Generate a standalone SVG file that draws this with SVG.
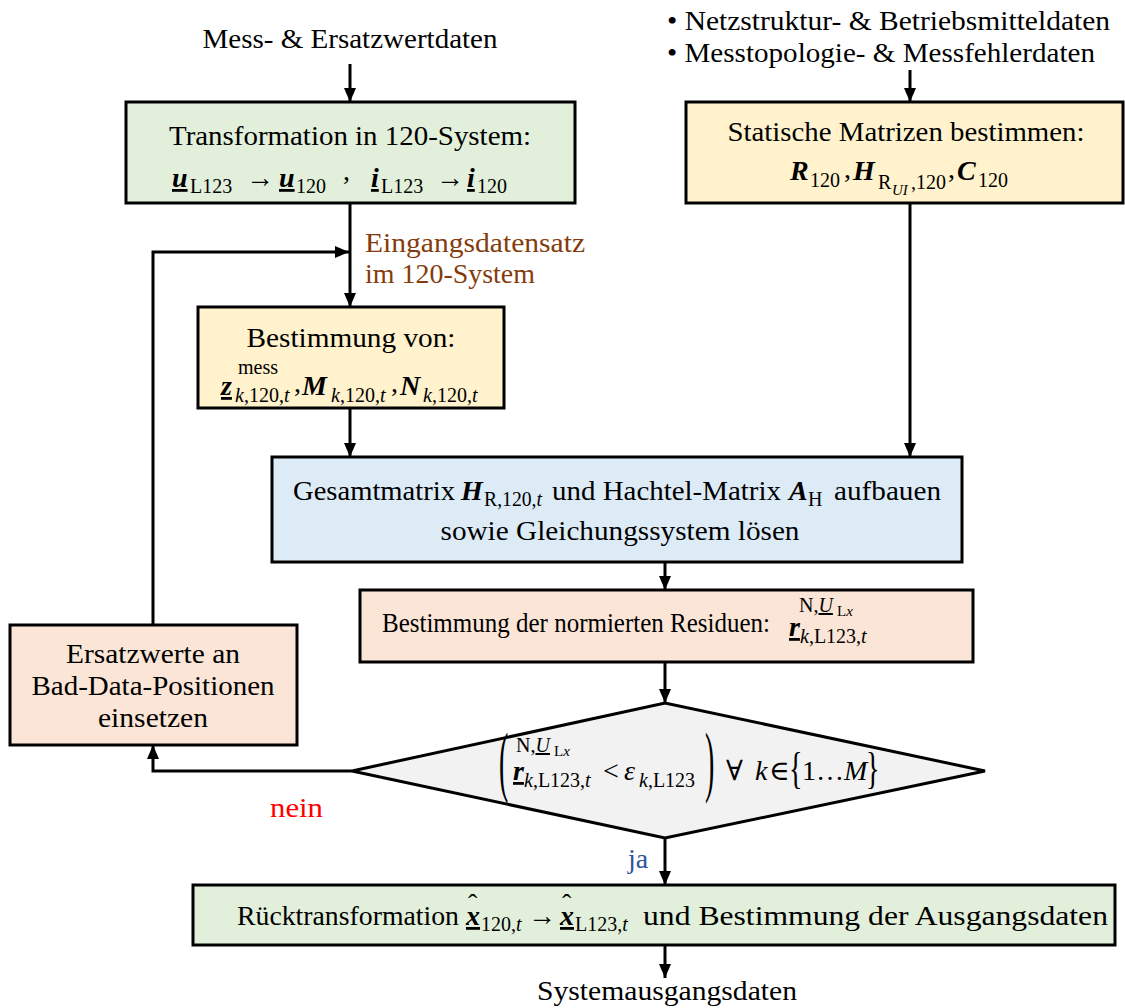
<svg xmlns="http://www.w3.org/2000/svg" width="1125" height="1008" viewBox="0 0 1125 1008">
  <style>
    .box { stroke: #000; stroke-width: 3; }
    .green { fill: #E2EFDA; }
    .yellow { fill: #FFF2CC; }
    .blue { fill: #DDEBF7; }
    .peach { fill: #FBE5D6; }
    .gray { fill: #F2F2F2; }
    text { font-family: "Liberation Serif", "DejaVu Serif", serif; font-size: 28px; fill: #000; }
    .mid { text-anchor: middle; }
    .bi { font-weight: bold; font-style: italic; }
    .it { font-style: italic; }
    .ul { text-decoration: underline; }
    .sub { font-size: 20px; }
    .ssub { font-size: 15px; }
    .con { stroke: #000; stroke-width: 3; fill: none; }
    .brown { fill: #843C0C; }
    .red { fill: #FF0000; }
    .bluet { fill: #2F5597; }
  </style>
  <defs>
    <marker id="arr" viewBox="0 0 14 12" refX="14" refY="6" markerWidth="14" markerHeight="12" markerUnits="userSpaceOnUse" orient="auto">
      <path d="M0,0 L14,6 L0,12 z" fill="#000"/>
    </marker>
  </defs>

  <!-- input labels -->
  <text class="mid" x="350" y="48" textLength="295" lengthAdjust="spacingAndGlyphs">Mess- &amp; Ersatzwertdaten</text>
  <text x="667" y="30" textLength="443" lengthAdjust="spacingAndGlyphs">• Netzstruktur- &amp; Betriebsmitteldaten</text>
  <text x="667" y="62" textLength="428" lengthAdjust="spacingAndGlyphs">• Messtopologie- &amp; Messfehlerdaten</text>

  <!-- connectors -->
  <g id="connectors">
    <line class="con" x1="350" y1="64" x2="350" y2="102" marker-end="url(#arr)"/>
    <line class="con" x1="910" y1="70" x2="910" y2="102" marker-end="url(#arr)"/>
    <line class="con" x1="350" y1="203" x2="350" y2="307" marker-end="url(#arr)"/>
    <polyline class="con" points="153,625 153,252 349,252" marker-end="url(#arr)"/>
    <line class="con" x1="350" y1="408" x2="350" y2="457" marker-end="url(#arr)"/>
    <line class="con" x1="910" y1="203" x2="910" y2="457" marker-end="url(#arr)"/>
    <line class="con" x1="665" y1="562" x2="665" y2="590" marker-end="url(#arr)"/>
    <line class="con" x1="665" y1="662" x2="665" y2="703" marker-end="url(#arr)"/>
    <polyline class="con" points="352,771 153,771 153,745" marker-end="url(#arr)"/>
    <line class="con" x1="665" y1="838" x2="665" y2="885" marker-end="url(#arr)"/>
    <line class="con" x1="665" y1="945" x2="665" y2="978" marker-end="url(#arr)"/>
    <text class="brown" x="365" y="252" textLength="220" lengthAdjust="spacingAndGlyphs">Eingangsdatensatz</text>
    <text class="brown" x="365" y="283" textLength="170" lengthAdjust="spacingAndGlyphs">im 120-System</text>
    <text class="red" x="270" y="817" textLength="53" lengthAdjust="spacingAndGlyphs">nein</text>
    <text class="bluet" x="628" y="868">ja</text>
  </g>

  <!-- transformation into 120 system -->
  <g id="transform">
    <rect class="box green" x="126" y="102" width="449" height="101"/>
    <text class="mid" x="350" y="145" textLength="362" lengthAdjust="spacingAndGlyphs">Transformation in 120-System:</text>
    <text class="bi ul" x="172" y="187">u</text>
    <text class="sub" x="190" y="193">L123</text>
    <text x="246" y="187">→</text>
    <text class="bi ul" x="279" y="187">u</text>
    <text class="sub" x="296" y="193">120</text>
    <text x="343" y="180">,</text>
    <text class="bi ul" x="371" y="187">i</text>
    <text class="sub" x="381" y="193">L123</text>
    <text x="436" y="187">→</text>
    <text class="bi ul" x="467" y="187">i</text>
    <text class="sub" x="477" y="193">120</text>
  </g>

  <!-- static matrices -->
  <g id="static">
    <rect class="box yellow" x="686" y="102" width="437" height="101"/>
    <text class="mid" x="906" y="141" textLength="357" lengthAdjust="spacingAndGlyphs">Statische Matrizen bestimmen:</text>
    <text class="bi" x="790" y="180">R</text>
    <text class="sub" x="810" y="187">120</text>
    <text x="844" y="178">,</text>
    <text class="bi" x="853" y="180">H</text>
    <text class="sub" x="878" y="189">R</text>
    <text class="ssub it" x="892" y="195">UI</text>
    <text class="sub" x="911" y="189">,120</text>
    <text x="948" y="178">,</text>
    <text class="bi" x="957" y="180">C</text>
    <text class="sub" x="978" y="187">120</text>
  </g>

  <!-- per-measurement quantities -->
  <g id="bestimmung">
    <rect class="box yellow" x="198" y="307" width="306" height="101"/>
    <text class="mid" x="351" y="347" textLength="209" lengthAdjust="spacingAndGlyphs">Bestimmung von:</text>
    <text class="bi ul" x="221" y="395">z</text>
    <text class="sub" x="238" y="374">mess</text>
    <text class="sub" x="235" y="402"><tspan class="it">k</tspan>,120,<tspan class="it">t</tspan></text>
    <text x="294" y="392">,</text>
    <text class="bi" x="302" y="395">M</text>
    <text class="sub" x="331" y="402"><tspan class="it">k</tspan>,120,<tspan class="it">t</tspan></text>
    <text x="391" y="392">,</text>
    <text class="bi" x="400" y="395">N</text>
    <text class="sub" x="423" y="402"><tspan class="it">k</tspan>,120,<tspan class="it">t</tspan></text>
  </g>

  <!-- system matrix and solve -->
  <g id="gesamt">
    <rect class="box blue" x="272" y="457" width="690" height="105"/>
    <text x="293" y="500" textLength="162" lengthAdjust="spacingAndGlyphs">Gesamtmatrix</text>
    <text class="bi" x="461" y="500">H</text>
    <text class="sub" x="484" y="506" font-size="19" textLength="58" lengthAdjust="spacingAndGlyphs">R,120,<tspan class="it">t</tspan></text>
    <text x="552" y="500" textLength="229" lengthAdjust="spacingAndGlyphs">und Hachtel-Matrix</text>
    <text class="bi" x="789" y="500">A</text>
    <text class="sub" x="808" y="506">H</text>
    <text x="834" y="500" textLength="107" lengthAdjust="spacingAndGlyphs">aufbauen</text>
    <text class="mid" x="620" y="540" textLength="359" lengthAdjust="spacingAndGlyphs">sowie Gleichungssystem lösen</text>
  </g>

  <!-- normalised residuals -->
  <g id="residuen">
    <rect class="box peach" x="360" y="590" width="613" height="72"/>
    <text x="382" y="632" font-size="26" textLength="388" lengthAdjust="spacingAndGlyphs">Bestimmung der normierten Residuen:</text>
    <text class="bi ul" x="789" y="636">r</text>
    <text class="sub" x="800" y="643"><tspan class="it">k</tspan>,L123,<tspan class="it">t</tspan></text>
    <text class="sub" x="799" y="612">N,<tspan class="it ul">U</tspan></text>
    <text class="ssub" x="837" y="616">L<tspan class="it">x</tspan></text>
  </g>

  <!-- bad-data test -->
  <g id="test">
    <polygon class="box gray" points="352,771 665,703 985,771 665,838"/>
    <text transform="translate(499,787) scale(1,2.8)">(</text>
    <text class="sub" x="516" y="752">N,<tspan class="it ul">U</tspan></text>
    <text class="ssub" x="554" y="756">L<tspan class="it">x</tspan></text>
    <text class="bi ul" x="513" y="780">r</text>
    <text class="sub" x="524" y="787"><tspan class="it">k</tspan>,L123,<tspan class="it">t</tspan></text>
    <text x="603" y="780">&lt;</text>
    <text class="it" x="624" y="780">ε</text>
    <text class="sub" x="639" y="787"><tspan class="it">k</tspan>,L123</text>
    <text transform="translate(705,787) scale(1,2.8)">)</text>
    <text x="726" y="780">∀</text>
    <text class="it" x="755" y="780">k</text>
    <text x="769" y="780">∈</text>
    <text transform="translate(789,783) scale(1,1.6)">{</text>
    <text x="802" y="780">1…<tspan class="it">M</tspan></text>
    <text transform="translate(866,783) scale(1,1.6)">}</text>
  </g>

  <!-- replacement values -->
  <g id="ersatz">
    <rect class="box peach" x="10" y="625" width="287" height="120"/>
    <text class="mid" x="153" y="663" textLength="174" lengthAdjust="spacingAndGlyphs">Ersatzwerte an</text>
    <text class="mid" x="153" y="695" textLength="243" lengthAdjust="spacingAndGlyphs">Bad-Data-Positionen</text>
    <text class="mid" x="153" y="727" textLength="110" lengthAdjust="spacingAndGlyphs">einsetzen</text>
  </g>

  <!-- back transformation -->
  <g id="ruecktransformation">
    <rect class="box green" x="193" y="885" width="922" height="60"/>
    <text x="237" y="925" textLength="222" lengthAdjust="spacingAndGlyphs">Rücktransformation</text>
    <text class="bi ul" x="466" y="925">x</text>
    <text x="468" y="913" font-size="20">ˆ</text>
    <text class="sub" x="481" y="931" font-size="21">120,<tspan class="it">t</tspan></text>
    <text x="528" y="925">→</text>
    <text class="bi ul" x="560" y="925">x</text>
    <text x="562" y="913" font-size="20">ˆ</text>
    <text class="sub" x="575" y="931" font-size="21">L123,<tspan class="it">t</tspan></text>
    <text x="643" y="925" textLength="465" lengthAdjust="spacingAndGlyphs">und Bestimmung der Ausgangsdaten</text>
  </g>

  <text class="mid" x="667" y="1000" textLength="260" lengthAdjust="spacingAndGlyphs">Systemausgangsdaten</text>
</svg>
